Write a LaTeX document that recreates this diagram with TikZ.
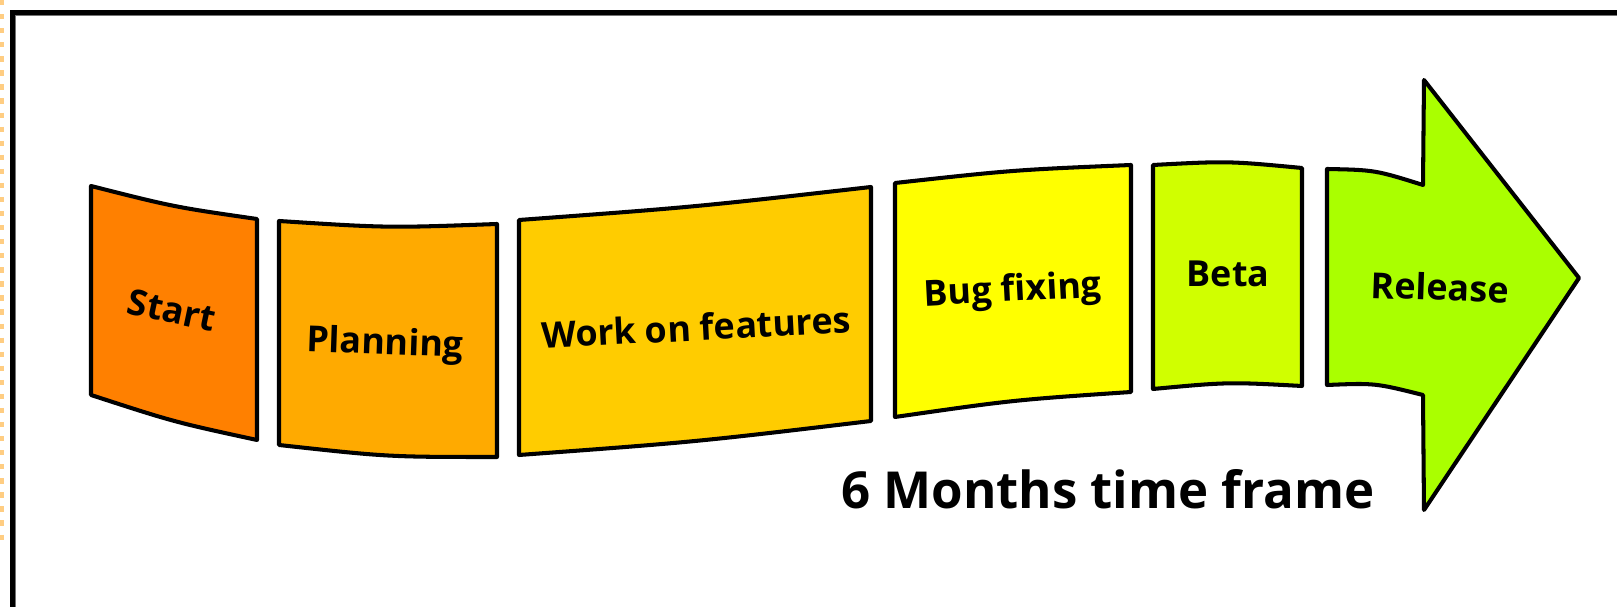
\documentclass[tikz,border=0pt]{standalone}
\usepackage{fontspec}
\setmainfont{Open Sans}
\usepackage{xcolor}
\definecolor{startorange}{RGB}{255,128,0}
\definecolor{planorange}{RGB}{255,170,0}
\definecolor{workyellow}{RGB}{255,204,0}
\definecolor{bugyellow}{RGB}{255,255,0}
\definecolor{betalime}{RGB}{208,255,0}
\definecolor{releasegreen}{RGB}{170,255,0}
\definecolor{guideorange}{RGB}{255,205,130}

\begin{document}
\begin{tikzpicture}[x=0.01cm,y=-0.01cm,
    segment/.style={draw=black,line width=1.15pt,line join=round},
    phase/.style={font=\fontsize{10.2}{12}\selectfont\bfseries,inner sep=0pt}]
        \useasboundingbox (0,0) rectangle (1617,607);
        \draw[guideorange,line width=1.2pt,dash pattern=on 1.5pt off 2.5pt] (1.5,0) -- (1.5,540);
        \draw[black!55,line width=0.4pt] (1617,15.5) -- (15.5,15.5) -- (15.5,607);
        \draw[line width=1.3pt] (1617,12.5) -- (12.5,12.5) -- (12.5,607);
        \draw[segment,fill=startorange] (91,186) .. controls (174,207) .. (257,219) -- (257,440)
            .. controls (174,422) .. (91,395) -- cycle;
        \draw[segment,fill=planorange] (279,221) .. controls (388,228) .. (497,224) -- (497,457)
            .. controls (388,457) .. (279,445) -- cycle;
        \draw[segment,fill=workyellow] (519,220) .. controls (695,207) .. (871,187) -- (871,421)
            .. controls (695,442) .. (519,455) -- cycle;
        \draw[segment,fill=bugyellow] (895,183) .. controls (1013,170) .. (1131,165) -- (1131,392)
            .. controls (1013,400) .. (895,417) -- cycle;
        \draw[segment,fill=betalime] (1153,165) .. controls (1228,161) .. (1302,168) -- (1302,386)
            .. controls (1228,382) .. (1153,389) -- cycle;
        \draw[segment,fill=releasegreen] (1327,169) .. controls (1375,170) .. (1423,185) -- (1424,80)
            -- (1579,278) -- (1424,510) -- (1423,395) .. controls (1375,383) .. (1327,385) -- cycle;
        \node[phase,rotate=-12] (start) at (172,310) {Start};
        \node[phase,rotate=-2] (planning) at (385,345) {Planning};
        \node[phase,rotate=3] (features) at (696,327) {Work on features};
        \node[phase,rotate=3] (bugfix) at (1013,292) {Bug fixing};
        \node[phase] (beta) at (1228,274) {Beta};
        \node[phase,rotate=-2] (release) at (1440,287) {Release};
        \node[font=\fontsize{14.5}{17}\selectfont\bfseries,inner sep=0pt] (timeframe) at (1108,489) {6 Months time frame};
      \end{tikzpicture}
\end{document}
